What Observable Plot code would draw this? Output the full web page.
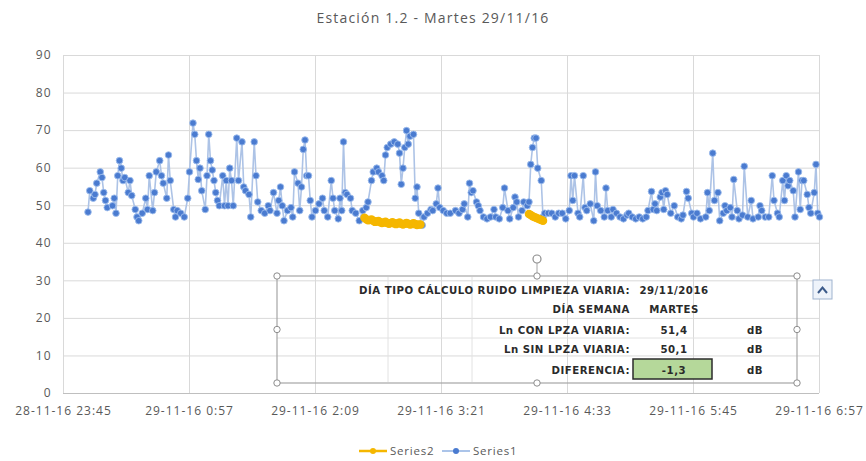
<!DOCTYPE html>
<html><head><meta charset="utf-8">
<script src="https://cdn.jsdelivr.net/npm/d3@7"></script>
<script src="https://cdn.jsdelivr.net/npm/@observablehq/plot@0.6"></script>
<style>
body{margin:0;background:#fff;}
#wrap{position:relative;width:866px;height:461px;overflow:hidden;font-family:"Open Sans",sans-serif;background:#fff;}
#title{position:absolute;left:0;top:8px;width:866px;text-align:center;font-size:14px;letter-spacing:1.2px;color:#595959;}
#chart{position:absolute;left:0;top:0;}
#chart svg text{letter-spacing:1px;}
#overlay{position:absolute;left:0;top:0;pointer-events:none;}
</style></head><body>
<div id="wrap"><div id="chart"></div><div id="title">Estación 1.2 - Martes 29/11/16</div></div>
<script>
// ---- data ----
const tickMinutes = [0, 72, 144, 216, 288, 360, 432]; // minutes after 28-11-16 23:45
const tickLabels = ["28-11-16 23:45","29-11-16 0:57","29-11-16 2:09","29-11-16 3:21","29-11-16 4:33","29-11-16 5:45","29-11-16 6:57"];
const yTicks = [0,10,20,30,40,50,60,70,80,90];

const s1Minutes = [
14,15,17,18,19,21,22,23,24,25,28,29,30,31,32,33,34,35,37,38,39,41,42,43,45,47,48,49,51,52,53,55,56,57,59,60,61,63,64,65,67,69,71,72,74,75,76,77,78,79,
81,82,83,84,85,86,87,88,89,91,92,93,94,95,96,97,99,100,102,103,104,106,107,109,110,111,113,115,117,118,120,122,123,124,125,126,128,130,131,132,134,135,136,137,138,139,140,141,142,144,146,148,149,151,
153,154,155,157,158,159,160,161,162,164,165,167,169,171,173,174,176,177,179,180,182,183,184,185,187,189,191,192,193,194,195,196,197,198,200,201,202,203,205,206,208,210,211,213,214,215,217,219,221,
224,226,228,229,231,232,233,234,236,237,238,240,242,244,246,247,249,251,252,254,255,257,258,259,260,262,263,265,266,267,268,269,270,271,273,274,275,277,279,281,283,285,287,289,290,291,292,294,
295,297,298,299,301,303,304,305,307,309,310,311,313,314,316,318,320,322,323,325,327,329,331,333,334,336,337,338,339,341,342,343,344,345,347,349,351,353,354,356,357,359,360,362,364,
367,368,369,371,372,374,375,377,378,379,381,382,383,385,386,388,389,391,393,394,397,398,399,401,403,405,406,408,409,411,412,413,414,415,417,418,420,421,422,423,425,426,427,429,430,431,432
];
const s1Values = [
48.3,54,52,53,56,59,57.5,53.5,51.4,49.5,50,52,48,58,62,60,56.7,57.5,53.5,56.7,52.7,49,47,46,48,52,49,58,48.7,53.5,59,62,58,56,52,63.5,56.7,49,47,48.7,48,47,52,59,72,69,62,57,60,54,
49,58,69,62,59.5,56.7,53.5,51.4,50,58,50,56.7,50,60,56.7,50,68,56.7,67,55,54,53,47,67,58,51,48.7,48,50,48.7,53.5,48,51.4,55,50,46,48.7,49.5,47,59,56,48.7,55,65,67.5,58,58,51.4,47,48.7,50.5,52,48.7,47,
56.7,52,48.7,46.5,52,48.7,67,53.5,53,52,48.7,48,46,48.7,49.5,51,56.7,59,60,59,58,56.7,63.5,65.5,66.4,67,66.4,64,55.7,60,65.5,70,66.4,68.5,69,52,55,48,44.8,47,48,49,48.7,50.5,54.7,49.5,48.7,48,48,
48.7,48,49,50.5,47,56,53.5,54,51,50,48.7,47,46.5,47,49,47,46.5,49.5,54.7,48.7,46.5,49.5,52.3,51,47,48.7,51,50,51,61,65.5,68,68,60,56.7,47,48,48,48,47,48,48,46.5,48.7,58,51.4,58,48,
47,58,49.5,48.7,50.5,46,59,50,48.7,47,54.7,48.7,47,49,48,47,46.5,47.5,48,47,46.5,47,46.5,47,48.7,53.8,49,50.5,48.7,52.3,53.5,49,54,53,48,50,47,46.5,47.5,53.8,52,48,47,48,46.5,
47,53.5,48.7,64,51.4,53.5,46,48,50,48.7,49.5,47,57,48.7,46.5,47.5,60.5,47,51.4,46.5,47,50,48.7,47,47,58,51.4,48,47,56.7,51.4,58,55.3,56.7,54,47,59,49,56.7,56.7,53,49.5,48,53.5,61,48,47
];

const s2Minutes = [172,173,174,175,176,177,178,179,180,181,182,183,184,185,186,187,188,189,190,191,192,193,194,195,196,197,198,199,200,201,202,203,204,null,266,267,268,269,270,271,272,273,274];
const s2Values  = [46.8,46.4,46.1,46.2,46.3,46.0,45.7,45.8,45.9,45.6,45.4,45.5,45.7,45.4,45.2,45.4,45.6,45.3,45.1,45.3,45.5,45.2,45.0,45.2,45.4,45.2,45.0,45.1,45.3,45.1,44.9,45.0,45.0,null,47.8,47.5,47.2,47.0,46.8,46.6,46.4,46.2,46.0];

const tableLabels = ["DÍA TIPO CÁLCULO RUIDO LIMPIEZA VIARIA:","DÍA SEMANA","Ln CON LPZA VIARIA:","Ln SIN LPZA VIARIA:","DIFERENCIA:"];
const tableValues = ["29/11/2016","MARTES","51,4","50,1","-1,3"];
const tableUnits  = ["","","dB","dB","dB"];
const legendNames = ["Series2","Series1"];

// ---- chart ----
const s1 = s1Minutes.map((m,i)=>({m, v:s1Values[i]}));
const s2 = s2Minutes.map((m,i)=>({m, v:s2Values[i]}));
const fmtX = m => tickLabels[tickMinutes.indexOf(m)];

const plot = Plot.plot({
  width: 866, height: 430,
  marginTop: 55, marginBottom: 37, marginLeft: 63, marginRight: 47,
  style: {fontFamily: "Open Sans, sans-serif", fontSize: "12px", color: "#595959", background: "transparent", overflow: "visible"},
  x: {domain: [0, 432], label: null},
  y: {domain: [0, 90], label: null},
  marks: [
    Plot.gridY(yTicks, {stroke: "#d9d9d9", strokeOpacity: 1}),
    Plot.gridX(tickMinutes, {stroke: "#d9d9d9", strokeOpacity: 1}),
    Plot.ruleY([0], {stroke: "#bfbfbf"}),
    Plot.axisY(yTicks, {tickSize: 0, tickPadding: 12, fill: "#595959", label: null}),
    Plot.axisX(tickMinutes, {tickSize: 0, tickPadding: 13, tickFormat: fmtX, fill: "#595959", label: null}),
    Plot.line(s1, {x: "m", y: "v", stroke: "#adc3e6", strokeWidth: 1.6}),
    Plot.dot(s1, {x: "m", y: "v", r: 3.3, fill: "#4a7bd0", stroke: "#9dbcec", strokeWidth: 0.9}),
    Plot.line(s2, {x: "m", y: "v", stroke: "#f5b700", strokeWidth: 6, strokeLinecap: "round"}),
    Plot.dot(s2.filter(d => d.v != null), {x: "m", y: "v", r: 3.5, fill: "#f5b700", stroke: "#f5b700"})
  ]
});
document.getElementById("chart").appendChild(plot);

// ---- overlay: embedded table, handles, legend ----
const svg = d3.select("#wrap").append("svg").attr("id","overlay").attr("width",866).attr("height",461);
const bx0 = 277, bx1 = 797, by0 = 276, by1 = 383;
const tFont = "DejaVu Sans, sans-serif";
// table inner lines
[388, 472].forEach(x => svg.append("line").attr("x1",x).attr("x2",x).attr("y1",by0+1).attr("y2",by1-1).attr("stroke","#e2e2e2"));
[338].forEach(y => svg.append("line").attr("x1",bx0).attr("x2",bx1).attr("y1",y).attr("y2",y).attr("stroke","#e2e2e2"));
// green cell
svg.append("rect").attr("x",633).attr("y",359).attr("width",79).attr("height",20).attr("fill","#b5d89a").attr("stroke","#2b2b2b").attr("stroke-width",1.5);
// box
svg.append("rect").attr("x",bx0).attr("y",by0).attr("width",bx1-bx0).attr("height",by1-by0).attr("fill","none").attr("stroke","#a6a6a6").attr("stroke-width",1.2);
// rotation handle
svg.append("line").attr("x1",537).attr("x2",537).attr("y1",263).attr("y2",by0).attr("stroke","#a6a6a6");
svg.append("circle").attr("cx",537).attr("cy",259).attr("r",4).attr("fill","#fff").attr("stroke","#8c8c8c").attr("stroke-width",1.2);
// handles
[[bx0,by0],[537,by0],[bx1,by0],[bx0,329.5],[bx1,329.5],[bx0,by1],[537,by1],[bx1,by1]].forEach(([x,y]) =>
  svg.append("circle").attr("cx",x).attr("cy",y).attr("r",3.2).attr("fill","#fff").attr("stroke","#8c8c8c"));
// text
const rowY = [290, 309, 330, 349, 370];
const addText = (t, x, y, anchor) => svg.append("text").attr("x",x).attr("y",y).attr("dy","0.35em").attr("text-anchor",anchor)
  .attr("font-family",tFont).attr("font-weight","bold").attr("font-size",10.2).attr("letter-spacing","0.5px").attr("fill","#2a2a2a").text(t);
tableLabels.forEach((t,i) => addText(t, 630, rowY[i], "end"));
tableValues.forEach((t,i) => addText(t, 674, rowY[i], "middle"));
tableUnits.forEach((t,i) => t && addText(t, 755, rowY[i], "middle"));
// layout button
svg.append("rect").attr("x",813).attr("y",280).attr("width",19).attr("height",19).attr("fill","#eef3fa").attr("stroke","#9fb3cf");
svg.append("path").attr("d","M818,293 L822.5,287.5 L827,293").attr("fill","none").attr("stroke","#3b5a8a").attr("stroke-width",2);
// legend
const legendColors = ["#f5b700", "#8fb0e2"];
const legendDot = ["#f5b700", "#4a7bd0"];
const lx = [359, 442];
legendNames.forEach((n,i) => {
  svg.append("line").attr("x1",lx[i]).attr("x2",lx[i]+28).attr("y1",451).attr("y2",451).attr("stroke",legendColors[i]).attr("stroke-width", i===0?2.5:1.5);
  svg.append("circle").attr("cx",lx[i]+14).attr("cy",451).attr("r",3).attr("fill",legendDot[i]);
  svg.append("text").attr("x",lx[i]+31).attr("y",451).attr("dy","0.35em").attr("font-family","Open Sans, sans-serif").attr("font-size",11.5).attr("letter-spacing","0.8px").attr("fill","#595959").text(n);
});
</script>
</body></html>
